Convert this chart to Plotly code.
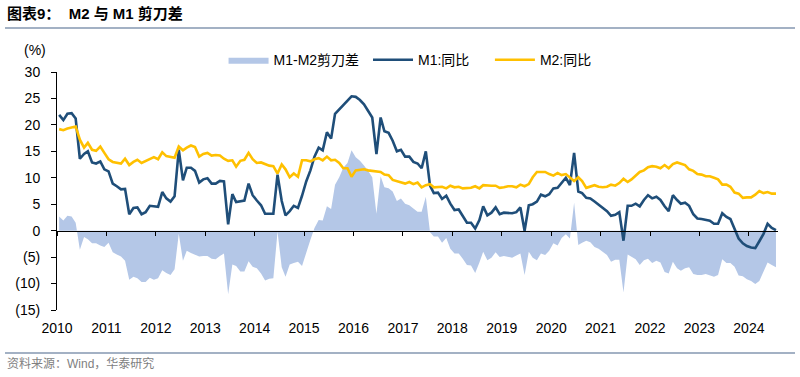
import plotly.graph_objects as go
import pandas as pd

# ---- data (monthly, Aug 2010 .. Feb 2025) ----
months = pd.date_range("2010-08-01", "2025-02-01", freq="MS").strftime("%Y-%m-%d").tolist()

m1_yoy = [
    21.9, 20.9, 22.1, 22.2, 21.2,
    13.6, 14.5, 15.0, 12.9, 12.7, 13.1, 11.6, 11.2, 8.9, 8.4, 7.8, 7.9,
    3.1, 4.3, 4.4, 3.1, 3.5, 4.7, 4.6, 4.5, 7.3, 6.1, 5.5, 6.5,
    15.3, 9.5, 11.9, 11.9, 11.3, 9.1, 9.7, 9.9, 8.9, 8.9, 9.4, 9.3,
    1.2, 6.9, 5.4, 5.5, 5.7, 8.9, 6.7, 5.7, 4.8, 3.2, 3.2, 3.2,
    10.6, 5.6, 2.9, 3.7, 4.7, 4.3, 6.6, 9.3, 11.4, 14.0, 15.7, 15.2,
    18.6, 17.4, 22.1, 22.9, 23.7, 24.6, 25.4, 25.3, 24.7, 23.9, 22.7, 21.4,
    14.5, 21.4, 18.8, 18.5, 17.0, 15.0, 15.3, 14.0, 14.0, 13.0, 12.7, 11.8,
    15.0, 8.5, 7.1, 7.2, 6.0, 6.6, 5.1, 3.9, 4.0, 2.7, 1.5, 1.5,
    0.4, 2.0, 4.6, 2.9, 3.4, 4.4, 3.1, 3.4, 3.4, 3.3, 3.5, 4.4,
    0.0, 4.8, 5.0, 5.5, 6.8, 6.5, 6.9, 8.0, 8.1, 9.1, 10.0, 8.6,
    14.7, 7.4, 7.1, 6.2, 6.1, 5.5, 4.9, 4.2, 3.7, 2.8, 3.0, 3.5,
    -1.9, 4.7, 4.7, 5.1, 4.6, 5.8, 6.7, 6.1, 6.4, 5.8, 4.6, 3.7,
    6.7, 5.8, 5.1, 5.3, 4.7, 3.1, 2.3, 2.2, 2.1, 1.9, 1.3, 1.3,
    3.3, 2.6, 2.2, 0.4, -1.5, -2.4, -2.9, -3.2, -3.3, -2.0, -0.6, 1.3,
    0.5, 0.1,
]

m2_yoy = [
    19.2, 19.0, 19.3, 19.5, 19.7,
    17.2, 15.7, 16.6, 15.3, 15.1, 15.9, 14.7, 13.5, 13.0, 12.9, 12.7, 13.6,
    12.4, 13.0, 13.4, 12.8, 13.2, 13.6, 13.9, 13.5, 14.8, 14.1, 13.9, 13.8,
    15.9, 15.2, 15.7, 16.1, 15.8, 14.0, 14.5, 14.7, 14.2, 14.3, 14.2, 13.6,
    13.2, 13.3, 12.1, 13.2, 13.4, 14.7, 13.5, 12.8, 12.9, 12.6, 12.3, 12.2,
    10.8, 12.5, 11.6, 10.1, 10.8, 10.2, 13.3, 13.3, 13.1, 13.5, 13.7, 13.3,
    14.0, 13.3, 13.4, 12.8, 11.8, 11.8, 10.2, 11.4, 11.5, 11.6, 11.4, 11.3,
    11.3, 11.1, 10.6, 10.5, 9.6, 9.4, 9.2, 8.9, 9.2, 8.8, 9.1, 8.2,
    8.6, 8.8, 8.2, 8.3, 8.3, 8.0, 8.5, 8.2, 8.3, 8.0, 8.0, 8.1,
    8.4, 8.0, 8.6, 8.5, 8.5, 8.5, 8.1, 8.2, 8.4, 8.4, 8.2, 8.7,
    8.4, 8.8, 10.1, 11.1, 11.1, 11.1, 10.7, 10.4, 10.9, 10.5, 10.7, 10.1,
    9.4, 10.1, 9.4, 8.1, 8.3, 8.6, 8.3, 8.2, 8.3, 8.7, 8.5, 9.0,
    9.8, 9.2, 9.7, 10.5, 11.1, 11.4, 12.0, 12.2, 12.1, 11.8, 12.4, 11.8,
    12.6, 12.9, 12.7, 12.4, 11.6, 11.3, 10.7, 10.6, 10.3, 10.3, 10.0, 9.7,
    8.7, 8.7, 8.3, 7.2, 7.0, 6.2, 6.3, 6.3, 6.8, 7.5, 7.1, 7.3,
    7.0, 7.0,
]

# M1-M2 scissors gap
gap = [round(a - b, 2) for a, b in zip(m1_yoy, m2_yoy)]

year_labels = [str(y) for y in range(2010, 2025)]
year_ticks = [f"{y}-07-16" for y in range(2010, 2025)]
y_ticks = [-15, -10, -5, 0, 5, 10, 15, 20, 25, 30]
y_tick_text = ["(15)", "(10)", "(5)", "0", "5", "10", "15", "20", "25", "30"]
series_names = ["M1-M2剪刀差\u00a0", "M1:同比\u00a0\u00a0\u00a0\u00a0", "M2:同比"]

x_range = ["2010-07-16", "2025-02-16"]
FONT = "Arial, Liberation Sans, Noto Sans CJK SC, sans-serif"

fig = go.Figure()
fig.add_trace(go.Scatter(
    x=months, y=gap, name=series_names[0], mode="lines",
    line=dict(width=0, color="#B4C7E7"), fill="tozeroy", fillcolor="#B4C7E7",
))
fig.add_trace(go.Scatter(
    x=months, y=m1_yoy, name=series_names[1], mode="lines",
    line=dict(width=2.6, color="#1F4E79"),
))
fig.add_trace(go.Scatter(
    x=months, y=m2_yoy, name=series_names[2], mode="lines",
    line=dict(width=2.6, color="#FFC000"),
))
# helper trace so the zero-line axis is drawn
fig.add_trace(go.Scatter(
    x=[months[0]], y=[None], xaxis="x2", showlegend=False, hoverinfo="skip", mode="lines",
))

fig.update_layout(
    width=800, height=377,
    margin=dict(l=57, r=22, t=72, b=67),
    paper_bgcolor="white", plot_bgcolor="white",
    font=dict(family=FONT, size=14, color="black"),
    showlegend=True,
    legend=dict(
        orientation="h", x=0.231, xanchor="left", y=1.05, yanchor="middle",
        font=dict(size=14, color="black"), bgcolor="rgba(0,0,0,0)",
        itemwidth=40,
    ),
    xaxis=dict(
        type="date", range=x_range, tickmode="array", tickvals=year_ticks, ticktext=year_labels,
        showline=False, ticks="", showgrid=False, zeroline=False,
        tickfont=dict(size=14, color="black"), ticklabelstandoff=8,
    ),
    xaxis2=dict(
        type="date", overlaying="x", anchor="free", position=1/3, range=x_range,
        tickmode="array", tickvals=year_ticks, showticklabels=False,
        showline=True, linecolor="black", linewidth=1,
        ticks="outside", ticklen=4, tickcolor="black", tickwidth=1,
        showgrid=False, zeroline=False,
    ),
    yaxis=dict(
        range=[-15, 30], tickmode="array", tickvals=y_ticks, ticktext=y_tick_text,
        showline=True, linecolor="black", linewidth=1,
        ticks="outside", ticklen=5, tickcolor="black",
        showgrid=False, zeroline=False,
        tickfont=dict(size=14, color="black"), ticklabelstandoff=8,
    ),
    annotations=[
        dict(text="<b>图表9：  M2 与 M1 剪刀差</b>", xref="paper", yref="paper",
             x=-0.0721, y=1.2437, xanchor="left", yanchor="middle", showarrow=False,
             font=dict(size=15, color="black", family=FONT)),
        dict(text="(%)", xref="paper", yref="paper", x=-0.0305, y=1.092,
             xanchor="center", yanchor="middle", showarrow=False,
             font=dict(size=14, color="black")),
        dict(text="资料来源：Wind，华泰研究", xref="paper", yref="paper",
             x=-0.0721, y=-0.2227, xanchor="left", yanchor="middle", showarrow=False,
             font=dict(size=12, color="#7F7F7F")),
    ],
    shapes=[
        dict(type="line", xref="paper", yref="paper", x0=-0.0721, x1=1.0236,
             y0=1.1849, y1=1.1849, line=dict(color="#8497B0", width=1.5)),
        dict(type="line", xref="paper", yref="paper", x0=-0.0721, x1=1.0236,
             y0=-0.1807, y1=-0.1807, line=dict(color="#8497B0", width=1.5)),
    ],
)

fig.write_html("out.html", config={"displayModeBar": False},
               post_script="document.body.style.margin='0';")
